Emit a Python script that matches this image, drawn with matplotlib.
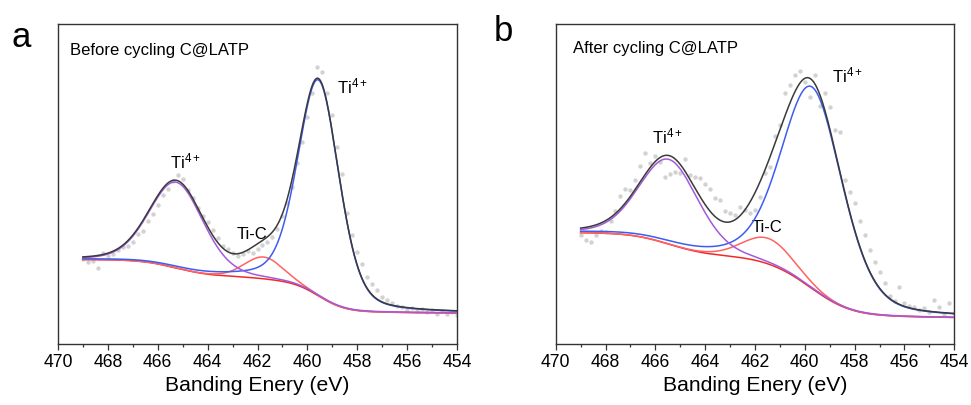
import numpy as np
import matplotlib.pyplot as plt
from matplotlib.ticker import MultipleLocator

plt.rcParams['font.family'] = ['Liberation Sans', 'DejaVu Sans']
plt.rcParams['mathtext.fontset'] = 'custom'
plt.rcParams['mathtext.rm'] = 'Liberation Sans'
plt.rcParams['mathtext.default'] = 'regular'

# measured points, 469.0 -> 454.0 eV in 0.2 eV steps
energy = np.round(np.linspace(469.0, 454.0, 76), 1)

dots_a = [26.5, 25.5, 25.8, 23.8, 28.5, 27.4, 28.0, 29.5, 30.2, 30.6,
          32.0, 34.5, 35.2, 38.5, 40.5, 43.5, 46.5, 48.5, 51.0, 52.8,
          51.5, 48.0, 45.5, 42.5, 40.0, 38.2, 35.5, 33.0, 30.5, 29.8,
          28.4, 27.6, 28.2, 29.0, 28.6, 29.8, 31.0, 31.8, 33.5, 36.0,
          40.0, 44.0, 49.0, 56.5, 63.0, 71.0, 78.5, 86.5, 85.0, 78.5,
          71.5, 61.5, 53.0, 41.0, 34.0, 28.8, 25.0, 21.0, 18.8, 16.8,
          14.8, 13.6, 12.7, 11.8, 11.5, 10.6, 11.4, 10.4, 10.9, 10.0,
          10.5, 9.4, 10.2, 9.3, 9.9, 9.1]

dots_b = [34.1, 32.5, 32.0, 34.1, 35.3, 34.9, 38.5, 41.5, 46.2, 48.6,
          48.1, 51.2, 55.5, 59.6, 56.5, 58.8, 57.0, 52.1, 53.0, 53.8,
          53.3, 57.7, 52.8, 52.1, 52.0, 50.0, 48.3, 45.5, 45.0, 41.5,
          40.8, 40.3, 42.9, 42.0, 40.8, 42.0, 46.0, 53.3, 55.4, 65.0,
          68.5, 78.3, 80.9, 84.0, 85.4, 82.0, 77.3, 84.0, 74.5, 78.5,
          74.2, 66.9, 66.3, 51.2, 47.5, 44.0, 38.5, 34.0, 29.4, 25.5,
          22.5, 19.0, 15.0, 13.5, 17.9, 12.8, 12.0, 11.7, 10.5, 11.2,
          10.0, 13.75, 11.7, 9.0, 12.7, 9.6]

# fitted components: Ti4+ (2p1/2), Ti-C, Ti4+ (2p3/2)
centers_a = [465.25, 461.75, 459.55]
heights_a = [26.8, 6.8, 67.5]
fwhm_a = [2.55, 1.8, 1.95]
lmix_a = [0.2, 0.1, 0.3]
bg_a = [9.7, 26.4]   # low BE end, high BE end

centers_b = [465.45, 461.47, 459.7]
heights_b = [26.5, 8.0, 63.0]
fwhm_b = [2.8, 2.4, 2.9]
lmix_b = [0.2, 0.1, 0.3]
bg_b = [8.3, 34.8]

titles = ['Before cycling C@LATP', 'After cycling C@LATP']
letters = ['a', 'b']
peak_labels = ['Ti$^{4+}$', 'Ti-C', 'Ti$^{4+}$']
label_pos_a = [(465.5, 55.0), (462.83, 32.7), (458.83, 78.3)]
label_pos_b = [(466.15, 62.7), (462.13, 35.1), (458.92, 81.7)]


def pvoigt(x, c, h, w, m):
    d = (x - c) / w
    return h * ((1 - m) * np.exp(-4 * np.log(2) * d ** 2) + m / (1 + 4 * d ** 2))


def shirley(x, total, lo, hi):
    cum = np.cumsum(total)
    cum = cum - cum[0]
    return lo + (hi - lo) * cum / cum[-1]


fig = plt.figure(figsize=(9.71, 4.05), dpi=100)
ax_a = fig.add_axes([0.0597, 0.1506, 0.411, 0.790])
ax_b = fig.add_axes([0.5723, 0.1506, 0.4105, 0.790])

x = np.linspace(454, 469, 1501)
panels = [
    (ax_a, dots_a, centers_a, heights_a, fwhm_a, lmix_a, bg_a, label_pos_a),
    (ax_b, dots_b, centers_b, heights_b, fwhm_b, lmix_b, bg_b, label_pos_b),
]

for i, (ax, dots, cen, hei, fw, mix, bg, lpos) in enumerate(panels):
    peaks = np.array([pvoigt(x, c, h, w, m) for c, h, w, m in zip(cen, hei, fw, mix)])
    base = shirley(x, peaks.sum(axis=0), bg[0], bg[1])

    ax.scatter(energy, dots, s=10, color='#d2d2d2', linewidths=0, zorder=1)
    ax.plot(x, base, color='#f02a2a', lw=1.1, zorder=2)
    ax.plot(x, base + peaks[1], color='#ff6262', lw=1.1, zorder=3)
    ax.plot(x, base + peaks[2], color='#3d5cf2', lw=1.1, zorder=4)
    ax.plot(x, base + peaks[0], color='#a35ad9', lw=1.1, zorder=5)
    ax.plot(x, base + peaks.sum(axis=0), color='#3a3a3a', lw=1.1, zorder=6)

    for lab, (ex, ey) in zip(peak_labels, lpos):
        ax.text(ex, ey, lab, fontsize=12, ha='left', va='baseline')

    ax.text(0.03 if i == 0 else 0.043, 0.903 if i == 0 else 0.909, titles[i],
            transform=ax.transAxes, fontsize=12, va='baseline')

    ax.set_xlim(470, 454)
    ax.set_ylim(0, 100)
    ax.xaxis.set_major_locator(MultipleLocator(2))
    ax.xaxis.set_minor_locator(MultipleLocator(1))
    ax.tick_params(axis='x', which='major', direction='out', length=4.5,
                   width=0.9, labelsize=12.7, pad=3, color='#333333')
    ax.tick_params(axis='x', which='minor', direction='out', length=2.5,
                   width=0.9, color='#333333')
    ax.set_yticks([])
    for sp in ax.spines.values():
        sp.set_linewidth(1.0)
        sp.set_color('#333333')
    ax.set_xlabel('Banding Enery (eV)', fontsize=15.2, labelpad=3)

fig.text(0.012, 0.885, letters[0], fontsize=25, va='baseline')
fig.text(0.508, 0.899, letters[1], fontsize=25, va='baseline')

fig.savefig('out.png', dpi=100)
